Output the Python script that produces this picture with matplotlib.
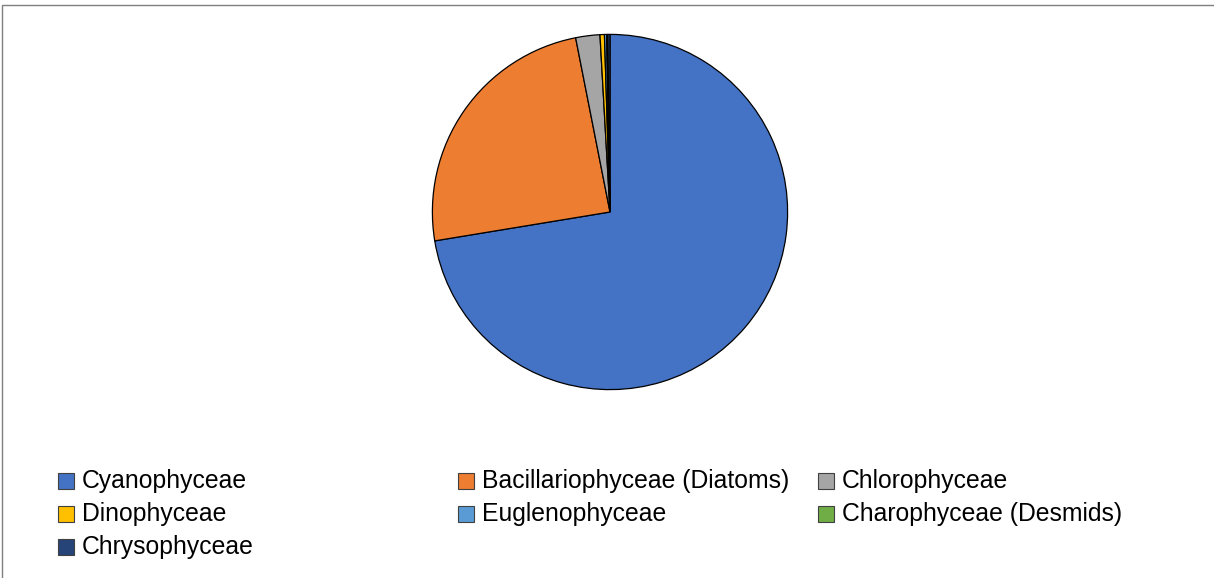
import matplotlib.pyplot as plt
from matplotlib.patches import Rectangle

# class share of phytoplankton (%)
classes = ["Cyanophyceae", "Bacillariophyceae (Diatoms)", "Chlorophyceae",
           "Dinophyceae", "Euglenophyceae", "Charophyceae (Desmids)", "Chrysophyceae"]
shares = [72.4, 24.5, 2.2, 0.4, 0.2, 0.1, 0.2]
colors = ["#4472C4", "#ED7D31", "#A5A5A5", "#FFC000", "#5B9BD5", "#70AD47", "#264478"]

W, H = 1214, 578
fig = plt.figure(figsize=(W / 100, H / 100), dpi=100)
plt.rcParams['font.family'] = ['Liberation Sans', 'DejaVu Sans']

# chart border (right/bottom run off the picture)
fig.patches.append(Rectangle((2 / W, -0.1), 1.2, (H - 5) / H + 0.1,
                             transform=fig.transFigure, fill=False,
                             edgecolor="#7f7f7f", linewidth=1))

# pie: centre (610, 212) px, radius ~178 px
cx, cy, r = 610, 212, 178.5
ax = fig.add_axes([(cx - r) / W, (H - cy - r) / H, 2 * r / W, 2 * r / H])
ax.pie(shares, colors=colors, startangle=90, counterclock=False, radius=1,
       wedgeprops=dict(edgecolor="black", linewidth=0.9))
ax.set_xlim(-1.005, 1.005)
ax.set_ylim(-1.005, 1.005)
ax.set_aspect("equal")
ax.axis("off")

# legend, 3 columns laid out like the original
col_x = [58, 458, 818]
row_y = [481, 514, 547]
for i, (name, c) in enumerate(zip(classes, colors)):
    x = col_x[i % 3]
    y = row_y[i // 3]
    fig.patches.append(Rectangle((x / W, (H - y - 8) / H), 16 / W, 16 / H,
                                 transform=fig.transFigure, facecolor=c,
                                 edgecolor="#404040", linewidth=0.8))
    fig.text((x + 24) / W, (H - y) / H, name, fontsize=17.8, va="center",
             ha="left", color="black")

fig.savefig("out.png", dpi=100)
